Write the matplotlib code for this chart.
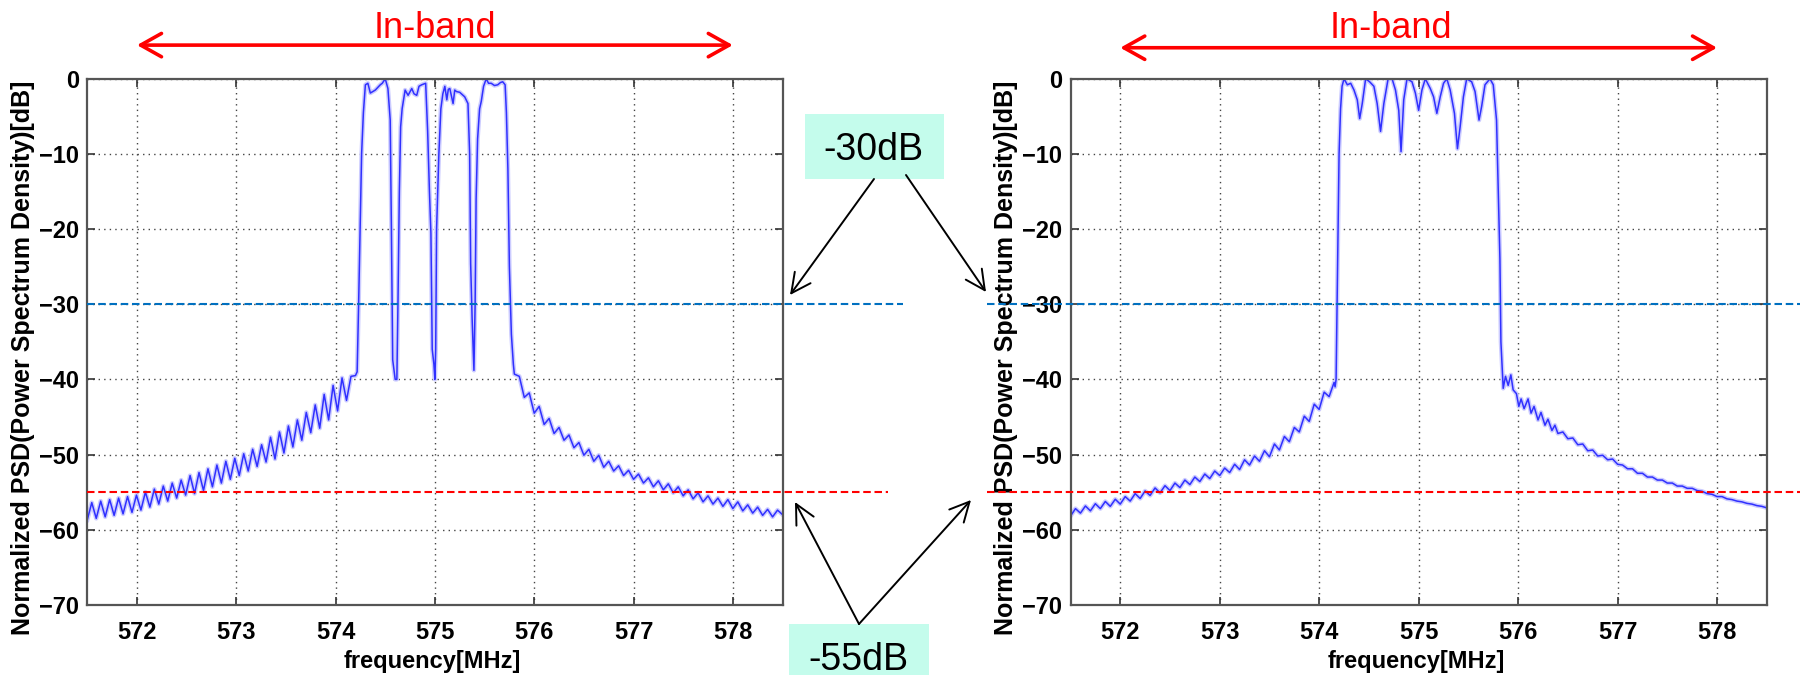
import numpy as np
import matplotlib
matplotlib.use("Agg")
import matplotlib.pyplot as plt
from matplotlib.patches import Rectangle, FancyArrowPatch
from matplotlib.transforms import blended_transform_factory

plt.rcParams["font.family"] = ["Liberation Sans", "DejaVu Sans"]

# ── Data ─────────────────────────────────────────────────────
# left panel: lower skirt / in-band (4 carriers) / upper skirt
a_lo_f = [571.50, 571.545, 571.59, 571.635, 571.68, 571.725, 571.77, 571.815, 571.86, 571.905,
          571.95, 571.995, 572.04, 572.085, 572.13, 572.175, 572.22, 572.265, 572.31, 572.355,
          572.40, 572.445, 572.49, 572.535, 572.58, 572.625, 572.67, 572.715, 572.76, 572.805,
          572.85, 572.895, 572.94, 572.985, 573.03, 573.075, 573.12, 573.165, 573.21, 573.255,
          573.30, 573.345, 573.39, 573.435, 573.48, 573.525, 573.57, 573.615, 573.66, 573.705,
          573.75, 573.795, 573.84, 573.885, 573.93, 573.975, 574.02, 574.065, 574.11, 574.155,
          574.20]
a_lo_db = [-58.7, -56.4, -58.5, -56.2, -58.3, -56.0, -58.1, -55.8, -57.9, -55.6,
           -57.7, -55.4, -57.4, -55.0, -57.0, -54.6, -56.6, -54.2, -56.2, -53.8,
           -55.8, -53.4, -55.4, -52.8, -55.2, -52.4, -54.8, -51.9, -54.3, -51.4,
           -53.8, -50.9, -53.3, -50.5, -52.8, -49.9, -52.2, -49.3, -51.6, -48.7,
           -51.0, -47.7, -50.6, -47.0, -49.8, -46.2, -49.0, -45.4, -48.1, -44.4,
           -47.1, -43.4, -46.5, -42.0, -45.4, -40.8, -44.2, -39.8, -42.8, -39.6,
           -39.5]
a_in_f = [574.217, 574.232, 574.248, 574.262, 574.280, 574.300, 574.325, 574.350, 574.400, 574.450,
          574.470, 574.500, 574.527, 574.550, 574.562, 574.575, 574.600, 574.617, 574.628, 574.642,
          574.655, 574.670, 574.700, 574.730, 574.767, 574.790, 574.817, 574.840, 574.867, 574.907,
          574.927, 574.945, 574.960, 574.973, 574.990, 575.000, 575.008, 575.017, 575.040, 575.060,
          575.080, 575.100, 575.120, 575.135, 575.150, 575.183, 575.200, 575.217, 575.250, 575.267,
          575.300, 575.333, 575.350, 575.360, 575.375, 575.393, 575.405, 575.415, 575.430, 575.450,
          575.467, 575.490, 575.517, 575.540, 575.567, 575.600, 575.633, 575.660, 575.683, 575.707,
          575.720, 575.735, 575.750, 575.770, 575.790, 575.800]
a_in_db = [-39.0, -30.0, -19.0, -10.0, -4.5, -0.8, -0.6, -1.9, -1.5, -0.8,
           -0.6, 0.0, -1.3, -5.5, -20.0, -37.4, -40.0, -40.0, -30.0, -15.0,
           -6.4, -4.0, -1.5, -2.2, -1.3, -2.0, -2.2, -1.0, -0.8, -0.6,
           -7.0, -15.0, -20.6, -36.0, -38.0, -40.0, -36.0, -20.0, -10.0, -4.0,
           -2.0, -1.0, -2.8, -1.4, -1.3, -3.3, -1.5, -1.7, -1.8, -2.0,
           -2.4, -3.3, -10.0, -24.6, -32.0, -38.8, -30.0, -16.0, -8.0, -4.0,
           -3.0, -1.0, 0.0, -0.6, -0.6, -0.9, -0.8, -0.5, -0.4, -0.8,
           -4.5, -12.0, -25.0, -34.0, -38.0, -39.3]
a_hi_f = [575.85, 575.90, 575.95, 576.00, 576.05, 576.10, 576.15, 576.20, 576.25, 576.30,
          576.35, 576.40, 576.45, 576.50, 576.55, 576.60, 576.65, 576.70, 576.75, 576.80,
          576.85, 576.90, 576.95, 577.00, 577.05, 577.10, 577.15, 577.20, 577.25, 577.30,
          577.35, 577.40, 577.45, 577.50, 577.55, 577.60, 577.65, 577.70, 577.75, 577.80,
          577.85, 577.90, 577.95, 578.00, 578.05, 578.10, 578.15, 578.20, 578.25, 578.30,
          578.35, 578.40, 578.45, 578.50]
a_hi_db = [-39.6, -42.4, -41.8, -44.5, -43.6, -46.0, -45.2, -47.2, -46.4, -48.1,
           -47.4, -49.1, -48.4, -50.1, -49.3, -50.9, -50.1, -51.7, -50.9, -52.2,
           -51.5, -52.8, -52.1, -53.3, -52.6, -53.8, -53.1, -54.3, -53.5, -54.7,
           -53.9, -55.1, -54.3, -55.5, -54.7, -55.9, -55.1, -56.3, -55.5, -56.6,
           -55.8, -56.9, -56.0, -57.2, -56.3, -57.5, -56.7, -57.8, -57.0, -58.1,
           -57.3, -58.3, -57.4, -58.0]

# right panel: lower skirt / in-band (one wide carrier) / upper skirt
b_lo_f = [571.50, 571.55, 571.60, 571.65, 571.70, 571.75, 571.80, 571.85, 571.90, 571.95,
          572.00, 572.05, 572.10, 572.15, 572.20, 572.25, 572.30, 572.35, 572.40, 572.45,
          572.50, 572.55, 572.60, 572.65, 572.70, 572.75, 572.80, 572.85, 572.90, 572.95,
          573.00, 573.05, 573.10, 573.15, 573.20, 573.25, 573.30, 573.35, 573.40, 573.45,
          573.50, 573.55, 573.60, 573.65, 573.70, 573.75, 573.80, 573.85, 573.90, 573.95,
          574.00, 574.05, 574.10, 574.15]
b_lo_db = [-58.2, -57.2, -57.8, -56.85, -57.5, -56.55, -57.2, -56.25, -56.9, -55.95,
           -56.6, -55.6, -56.2, -55.2, -55.85, -54.85, -55.45, -54.45, -55.1, -54.15,
           -54.8, -53.8, -54.4, -53.4, -54.0, -53.0, -53.6, -52.6, -53.2, -52.2,
           -52.8, -51.8, -52.4, -51.3, -52.0, -50.7, -51.4, -50.2, -50.9, -49.5,
           -50.3, -48.6, -49.4, -47.6, -48.3, -46.4, -47.0, -44.9, -45.6, -43.3,
           -44.0, -41.7, -42.3, -40.4]
b_in_f = [574.160, 574.170, 574.180, 574.190, 574.200, 574.215, 574.230, 574.250, 574.283, 574.317,
          574.350, 574.383, 574.407, 574.433, 574.467, 574.507, 574.550, 574.583, 574.617, 574.650,
          574.693, 574.733, 574.767, 574.800, 574.823, 574.850, 574.883, 574.933, 574.967, 575.000,
          575.033, 575.067, 575.117, 575.150, 575.183, 575.217, 575.250, 575.283, 575.317, 575.360,
          575.390, 575.417, 575.450, 575.483, 575.533, 575.567, 575.607, 575.633, 575.667, 575.717,
          575.750, 575.783, 575.800, 575.817, 575.827, 575.850, 575.873, 575.900, 575.927, 575.950,
          575.983, 576.007]
b_in_db = [-41.0, -40.0, -30.0, -20.0, -10.0, -4.0, -1.0, 0.0, -0.8, -0.6,
           -1.5, -2.8, -5.3, -3.3, 0.0, -0.4, -1.0, -3.3, -7.0, -3.3,
           0.0, 0.0, -1.5, -4.2, -9.7, -2.8, 0.0, -0.4, -1.9, -4.2,
           -1.5, 0.0, -1.3, -2.4, -4.6, -2.4, -0.6, 0.0, -1.5, -4.6,
           -9.3, -6.4, -2.4, 0.0, -0.4, -1.7, -5.5, -3.7, -0.8, 0.0,
           -0.8, -5.5, -15.0, -24.0, -35.0, -41.2, -39.6, -40.8, -39.4, -41.4,
           -41.9, -43.6]
b_hi_f = [576.03, 576.06, 576.10, 576.13, 576.16, 576.20, 576.23, 576.27, 576.30, 576.34,
          576.37, 576.40, 576.45, 576.50, 576.55, 576.60, 576.65, 576.70, 576.75, 576.80,
          576.85, 576.90, 576.95, 577.00, 577.05, 577.10, 577.15, 577.20, 577.25, 577.30,
          577.35, 577.40, 577.45, 577.50, 577.55, 577.60, 577.65, 577.70, 577.75, 577.80,
          577.85, 577.90, 577.95, 578.00, 578.05, 578.10, 578.15, 578.20, 578.25, 578.30,
          578.35, 578.40, 578.45, 578.50]
b_hi_db = [-42.6, -43.9, -42.6, -44.5, -43.6, -45.4, -44.4, -46.1, -45.3, -46.8,
           -46.1, -47.2, -47.0, -47.9, -47.8, -48.7, -48.6, -49.5, -49.4, -50.2,
           -50.1, -50.7, -50.6, -51.3, -51.4, -51.9, -51.9, -52.5, -52.5, -53.0,
           -53.0, -53.4, -53.4, -53.8, -53.8, -54.2, -54.2, -54.5, -54.5, -54.8,
           -54.9, -55.2, -55.3, -55.6, -55.6, -55.9, -56.0, -56.2, -56.3, -56.5,
           -56.6, -56.8, -56.9, -57.1]

freq_ticks = [572, 573, 574, 575, 576, 577, 578]
db_ticks = [0, -10, -20, -30, -40, -50, -60, -70]
level_blue = -30
level_red = -55

# ── Colours ──────
C_CURVE = "#3030ff"
C_HALO = "#ccccff"
C_BLUE = "#0070C0"
C_RED = "#FF0000"
C_BOX = "#C4FCEC"

W, H = 1800, 675
fig = plt.figure(figsize=(W / 100, H / 100), dpi=100, facecolor="white")


def px(x, y):
    # image pixel -> figure fraction
    return x / W, 1 - y / H


panels = [
    (np.concatenate([a_lo_f, a_in_f, a_hi_f]), np.concatenate([a_lo_db, a_in_db, a_hi_db]),
     [87.3 / W, 0.104, 695.2 / W, 0.7793], 575.0, 1.064, (87.3, 903, 888)),
    (np.concatenate([b_lo_f, b_in_f, b_hi_f]), np.concatenate([b_lo_db, b_in_db, b_hi_db]),
     [1070.5 / W, 0.104, 696.3 / W, 0.7793], 574.72, 1.059, (987, 1800, 1800)),
]

for f, db, rect, txt_x, arr_y, (x0, xb, xr) in panels:
    ax = fig.add_axes(rect)
    ax.plot(f, db, color=C_HALO, lw=3.2, zorder=2, solid_joinstyle="round")
    ax.plot(f, db, color=C_CURVE, lw=1.1, zorder=2.2)

    ax.set_xlim(571.5, 578.5)
    ax.set_ylim(-70, 0)
    ax.set_xticks(freq_ticks)
    ax.set_yticks(db_ticks)
    ax.grid(True, color="#444444", linestyle=(0, (1, 3)), linewidth=1.0)
    ax.tick_params(direction="in", top=True, right=True, length=6, width=1.2,
                   labelsize=17, color="#333333")
    ax.tick_params(axis="x", pad=12)
    ax.tick_params(axis="y", pad=6)
    for lab in ax.get_xticklabels() + ax.get_yticklabels():
        lab.set_fontweight("bold")
    for s in ax.spines.values():
        s.set_color("#555555")
        s.set_linewidth(1.6)

    ax.set_xlabel("frequency[MHz]", fontsize=17, fontweight="bold")
    ax.set_ylabel("Normalized PSD(Power Spectrum Density)[dB]", fontsize=18, fontweight="bold")
    ax.xaxis.set_label_coords(0.496, -0.107)
    ax.xaxis.label.set_va("center")
    ax.yaxis.set_label_coords(-0.093, 0.47)
    ax.yaxis.label.set_va("center")

    # threshold lines, running past the frame
    tr = blended_transform_factory(fig.transFigure, ax.transData)
    ax.plot([x0 / W, xb / W], [level_blue, level_blue], transform=tr, color=C_BLUE,
            lw=1.5, linestyle=(0, (3.6, 1.8)), clip_on=False, zorder=4)
    ax.plot([x0 / W, xr / W], [level_red, level_red], transform=tr, color=C_RED,
            lw=1.5, linestyle=(0, (3.6, 1.8)), clip_on=False, zorder=4)

    # In-band marker
    ax.annotate("", xy=(578, arr_y), xytext=(572, arr_y),
                xycoords=("data", "axes fraction"), textcoords=("data", "axes fraction"),
                arrowprops=dict(arrowstyle="<->,head_length=0.75,head_width=0.42",
                                color=C_RED, lw=2.6, mutation_scale=20,
                                shrinkA=0, shrinkB=0))
    ax.text(txt_x, 1.0776, "In-band", transform=blended_transform_factory(ax.transData, ax.transAxes),
            ha="center", va="baseline", fontsize=26, color=C_RED)

# callout boxes
for (bx0, by0, bx1, by1), label, (tx, ty), start, tips in [
    ((805, 114, 944, 179), "-30dB", (873, 160), None, [((874, 179), (790, 295)), ((906, 175), (986, 292))]),
    ((789, 624, 929, 690), "-55dB", (858, 670), None, [((859, 624), (795, 502)), ((859, 624), (971, 500))]),
]:
    xa, ya = px(bx0, by1)
    xb_, yb = px(bx1, by0)
    fig.add_artist(Rectangle((xa, ya), xb_ - xa, yb - ya, transform=fig.transFigure,
                             facecolor=C_BOX, edgecolor="none", zorder=5))
    fig.text(*px(tx, ty), label, ha="center", va="baseline", fontsize=27, color="black", zorder=6)
    for p0, p1 in tips:
        fig.add_artist(FancyArrowPatch(px(*p0), px(*p1), transform=fig.transFigure,
                                       arrowstyle="->,head_length=0.7,head_width=0.35",
                                       mutation_scale=20, lw=1.4, color="black",
                                       shrinkA=0, shrinkB=0, zorder=6))

fig.savefig("out.png", dpi=100, facecolor="white")
